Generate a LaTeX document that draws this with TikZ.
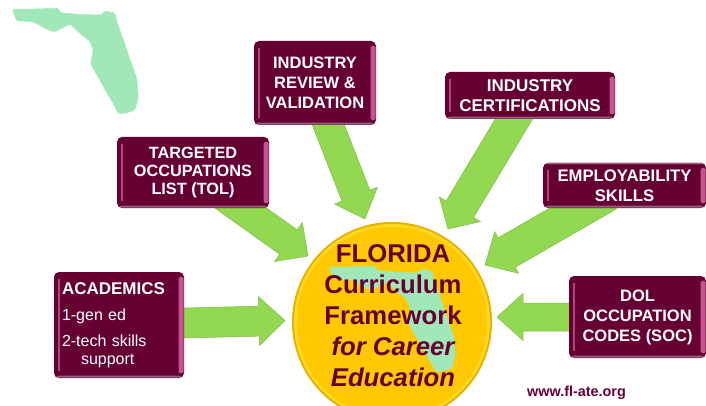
\documentclass[tikz,border=0pt]{standalone}
\usepackage{fontspec}
\setmainfont{Liberation Sans}
\usetikzlibrary{calc,backgrounds}
\definecolor{maroon}{HTML}{660033}
\definecolor{bevelR}{HTML}{C4558F}
\definecolor{bevelL}{HTML}{A8487C}
\definecolor{bevelB}{HTML}{94607C}
\definecolor{arrowG}{HTML}{92D850}
\definecolor{arrowE}{HTML}{80BC48}
\definecolor{flgreen}{HTML}{A0E8B8}
\definecolor{gold}{HTML}{FFC800}
\definecolor{goldD}{HTML}{E8B000}
\definecolor{goldL}{HTML}{FFD820}
\tikzset{
  boxnode/.style={fill=maroon,rounded corners=5pt,inner sep=0pt,text=white,align=center,
    font=\bfseries\fontsize{16.5}{20}\selectfont},
  flstate/.style={fill=flgreen,draw=flgreen,line width=.5pt,line join=round,rounded corners=1.5pt},
  blockarrow/.style={fill=arrowG,draw=arrowE,line width=.5pt,line join=miter},
  hubtext/.style={text=maroon,align=center,inner sep=0pt,font=\bfseries\fontsize{25.7}{31}\selectfont},
}
\newcommand\bevels[1]{
  \fill[bevelB,rounded corners=2pt] ($(#1.south west)+(3,-2.5)$) rectangle ($(#1.south east)+(-3,-.5)$);
  \fill[bevelR,rounded corners=1.5pt] ($(#1.north east)+(-5.5,5)$) rectangle ($(#1.south east)+(-.5,-5)$);
  \fill[bevelL] ($(#1.north west)+(4.5,7)$) rectangle ($(#1.south west)+(6,-7)$);
}
% start coordinate on the box edge, tip coordinate, shaft half, head half, head length.
% The tail runs on behind the box so that the box edge cuts it flush.
\newcommand\blockarrowfrom[5]{
  \coordinate (hb) at ($(#2)!#5pt!(#1)$);
  \coordinate (tl) at ($(#1)!-28pt!(#2)$);
  \draw[blockarrow] ($(tl)!#3pt!90:(#2)$) -- ($(hb)!#3pt!90:(#2)$) -- ($(hb)!#4pt!90:(#2)$)
    -- (#2) -- ($(hb)!#4pt!-90:(#2)$) -- ($(hb)!#3pt!-90:(#2)$) -- ($(tl)!#3pt!-90:(#2)$) -- cycle;
}
\newcommand\florida{
  (12.3,9.3) -- (35,9) -- (58.3,8.3) -- (60,12.7) -- (80,14.5) -- (101.7,15) -- (105,11) -- (115,13.3)
  -- (117.3,23.3) -- (124,41.7) -- (128.3,55) -- (136.7,78.3) -- (138.3,96.7) -- (135,110)
  -- (125,113.3) -- (118.3,113.3) -- (113.3,103.3) -- (108.3,95) -- (101.7,83.3) -- (95,71.7)
  -- (90.7,63.3) -- (93.3,50) -- (90,41.7) -- (78.3,31.7) -- (70,24) -- (55,31.7) -- (48.3,30)
  -- (33.3,21.7) -- (16.7,20.7) -- cycle
}
\begin{document}
\begin{tikzpicture}[x=1pt,y=-1pt]
\useasboundingbox (0,0) rectangle (706,406);
\fill[flstate] \florida;

% boxes
\node[boxnode,minimum width=122pt,minimum height=84pt] (rev) at (315,83) {INDUSTRY\\REVIEW \&\\VALIDATION};
\bevels{rev}
\node[boxnode,minimum width=152pt,minimum height=71pt,font=\bfseries\fontsize{16.3}{18}\selectfont] (tol) at (193,172.5) {TARGETED\\OCCUPATIONS\\LIST (TOL)};
\bevels{tol}
\node[boxnode,minimum width=170pt,minimum height=47pt,font=\bfseries\fontsize{17}{20}\selectfont] (cert) at (530,95.5) {INDUSTRY\\CERTIFICATIONS};
\bevels{cert}
\node[boxnode,minimum width=163pt,minimum height=45pt,font=\bfseries\fontsize{16.7}{20}\selectfont] (emp) at (624.5,185.5) {EMPLOYABILITY\\SKILLS};
\bevels{emp}
\fill[bevelB,rounded corners=1pt] ($(emp.north west)+(3,0)$) rectangle ($(emp.north east)+(-3,1.5)$);
\node[boxnode,minimum width=130pt,minimum height=106pt,align=left,text width=114pt,font=\fontsize{16}{18}\selectfont] (acad) at (119,325)
  {{\bfseries\fontsize{17}{18}\selectfont ACADEMICS}\\[8pt]1-gen ed\\[8pt]2-tech skills\\\hspace*{19pt}support};
\bevels{acad}
\node[boxnode,minimum width=137pt,minimum height=82pt] (dol) at (637.5,317) {DOL\\OCCUPATION\\CODES (SOC)};
\bevels{dol}

% hub
\node[circle,fill=goldD,minimum size=200pt,inner sep=0pt] (hub) at (392,322) {};
\node[circle,fill=goldL,minimum size=196pt,inner sep=0pt] (hubrim) at (hub.center) {};
\node[circle,fill=gold,minimum size=190pt,inner sep=0pt] (hubin) at (hub.center) {};
\begin{scope}[shift={(317,258)}]
\fill[flstate] \florida;
\end{scope}
\node[hubtext] (hublabel) at (393,316) {FLORIDA\\Curriculum\\Framework\\{\itshape for Career}\\{\itshape Education}};

% block arrows
\coordinate (tipRev) at (365,219);
\coordinate (tipTol) at (308,256);
\coordinate (tipCert) at (448,229);
\coordinate (tipEmp) at (485,265);
\coordinate (tipAcad) at (285,320.5);
\coordinate (tipDol) at (497,317);
\coordinate (sRev) at ($(rev.south west)!.61!(rev.south east)$);
\coordinate (sTol) at ($(tol.south west)!.815!(tol.south east)$);
\coordinate (sCert) at ($(cert.south west)!.405!(cert.south east)$);
\coordinate (sEmp) at ($(emp.south west)!.25!(emp.south east)$);
\coordinate (sAcad) at ($(acad.east)+(0,-2)$);
\coordinate (sDol) at (dol.west);
\begin{scope}[on background layer]
\fill[white] (0,0) rectangle (706,406);
\blockarrowfrom{sRev}{tipRev}{15}{23}{25}
\blockarrowfrom{sTol}{tipTol}{15}{24}{24}
\blockarrowfrom{sCert}{tipCert}{16}{24}{23}
\blockarrowfrom{sEmp}{tipEmp}{17}{24}{25}
\blockarrowfrom{sAcad}{tipAcad}{15}{24.5}{26}
\blockarrowfrom{sDol}{tipDol}{14}{23.5}{26}
\end{scope}

\node[text=maroon,inner sep=0pt,font=\bfseries\fontsize{14.4}{15}\selectfont] (web) at (576.5,393) {www.fl-ate.org};
\end{tikzpicture}
\end{document}
